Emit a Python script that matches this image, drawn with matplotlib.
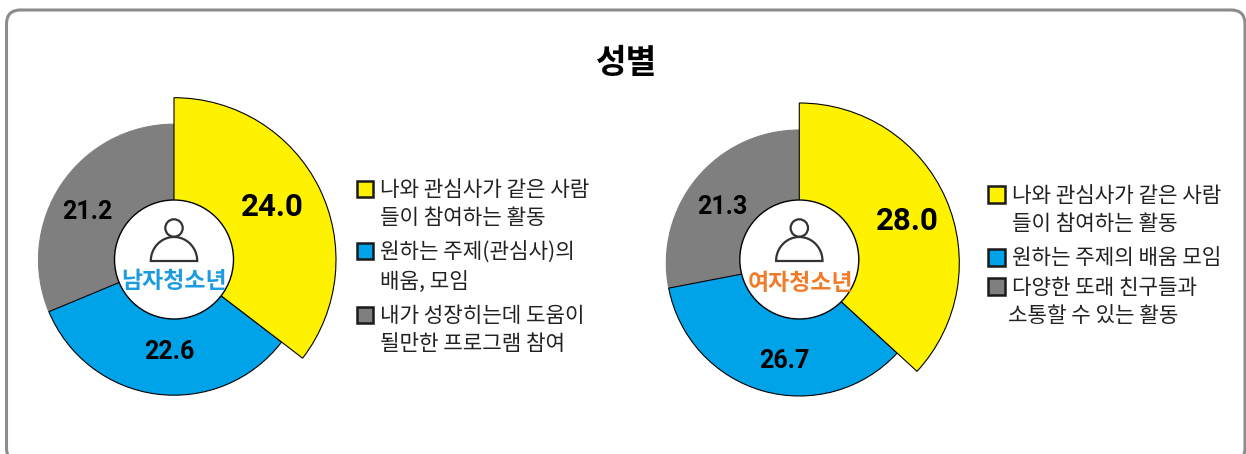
import matplotlib
matplotlib.use("Agg")
import matplotlib.pyplot as plt
from matplotlib.patches import Circle, FancyBboxPatch, Rectangle, PathPatch
from matplotlib.path import Path
import numpy as np

W, H = 1246, 454
TITLE = "성별"
GROUPS = ["남자청소년", "여자청소년"]
MALE_VALUES = [24.0, 22.6, 21.2]
FEMALE_VALUES = [28.0, 26.7, 21.3]
COLORS = ["#FFF200", "#00A2E8", "#7F7F7F"]
MALE_LEGEND = ["나와 관심사가 같은 사람\n들이 참여하는 활동", "원하는 주제(관심사)의\n배움, 모임", "내가 성장히는데 도움이\n될만한 프로그램 참여"]
FEMALE_LEGEND = ["나와 관심사가 같은 사람", "들이 참여하는 활동", "원하는 주제의 배움 모임", "다양한 또래 친구들과", "소통할 수 있는 활동"]

KR = ["Noto Sans CJK KR", "DejaVu Sans"]
fig = plt.figure(figsize=(W / 100, H / 100), dpi=100)
ax = fig.add_axes([0, 0, 1, 1])


def Y(y):
    return H - y


def donut(values, cx, cy, r, r_big, icy, ir, label, label_color, label_pos, val_pos, val_sizes):
    wedges, _ = ax.pie(values, colors=COLORS, center=(cx, Y(cy)), radius=r, startangle=90,
                       counterclock=False,
                       wedgeprops=dict(edgecolor="black", linewidth=0.8))
    wedges[0].set_radius(r_big)
    wedges[0].set_zorder(3)
    wedges[1].set_zorder(2)
    wedges[2].set_zorder(1)
    wedges[2].set_edgecolor("#7F7F7F")
    ax.add_patch(Circle((cx, Y(icy)), ir, fc="white", ec="black", lw=1.0, zorder=4))
    ix = cx
    ax.add_patch(Circle((ix, Y(228)), 8.7, fc="white", ec="#333333", lw=1.6, zorder=5))
    t = np.linspace(np.pi, 0, 60)
    pts = np.column_stack([ix + 23.2 * np.cos(t), Y(261) + 24 * np.sin(t)])
    ax.add_patch(PathPatch(Path(np.vstack([pts, pts[:1]]), closed=True), fc="white", ec="#333333", lw=1.6, zorder=5))
    ax.text(label_pos[0], Y(label_pos[1]), label, color=label_color, family=KR, weight="bold",
            fontsize=16.5, ha="center", va="center", zorder=6)
    for v, p, s in zip(values, val_pos, val_sizes):
        ax.text(p[0], Y(p[1]), f"{v:.1f}", family=["Roboto"], weight="bold", fontsize=s,
                ha="center", va="center", color="black", zorder=6)


donut(MALE_VALUES, 174, 259.7, 135.5, 162, 259.5, 59.5, GROUPS[0], "#1C9CE0", (174, 282),
      [(272.5, 207), (169, 352), (87.5, 212)], [22.5, 18, 18])
donut(FEMALE_VALUES, 799.3, 263, 133, 160, 259.5, 59.5, GROUPS[1], "#F07C2A", (800.5, 283.5),
      [(907, 221), (784, 361), (722.5, 207)], [22.5, 18, 18])

ax.add_patch(FancyBboxPatch((6.5 + 14, Y(462) + 14), 1238.5 - 28, 452 - 28,
                            boxstyle="round,pad=14,rounding_size=14", fc="none", ec="#8C8C8C", lw=2.2, zorder=0))
ax.text(627, Y(63.5), TITLE, family=KR, weight="bold", fontsize=24, ha="center", va="center", color="black")


def swatch(x0, x1, y0, y1, color):
    ax.add_patch(Rectangle((x0, Y(y1)), x1 - x0, y1 - y0, fc=color, ec="#1A1A1A", lw=1.8, zorder=5))


def line(x, y, s):
    ax.text(x, Y(y + 1.5), s, family=KR, fontsize=15.3, ha="left", va="center", color="#222222")


for (y0, ys), entry, col in zip([(180.5, (189, 217)), (242.5, (251, 281)), (306.5, (314, 343))], MALE_LEGEND, COLORS):
    swatch(356.5, 373, y0, y0 + 16.5, col)
    for y, s in zip(ys, entry.split("\n")):
        line(380.5, y, s)

for y0, col in zip([186, 249, 278], COLORS):
    swatch(988, 1004.5, y0, y0 + 16.5, col)
for (x, y), s in zip([(1012.5, 195), (1012.5, 222), (1012.5, 257), (1012.5, 286), (1008, 314)], FEMALE_LEGEND):
    line(x, y, s)

ax.set_xlim(0, W)
ax.set_ylim(0, H)
ax.set_aspect("auto")
ax.axis("off")
fig.savefig("out.png", dpi=100, facecolor="white")
